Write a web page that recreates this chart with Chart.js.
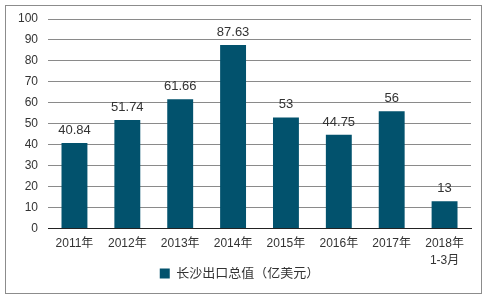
<!DOCTYPE html>
<html>
<head>
<meta charset="utf-8">
<script src="https://cdn.jsdelivr.net/npm/chart.js"></script>
<style>
  html, body { margin: 0; padding: 0; background: #fff; }
  #wrap { width: 489px; height: 299px; }
</style>
</head>
<body>
<div id="wrap"><canvas id="exportChart" width="489" height="299"></canvas></div>
<script>
const categories = ["2011年", "2012年", "2013年", "2014年", "2015年", "2016年", "2017年", ["2018年", "1-3月"]];
const exportValues = [40.84, 51.74, 61.66, 87.63, 53, 44.75, 56, 13];
const valueLabels = ["40.84", "51.74", "61.66", "87.63", "53", "44.75", "56", "13"];
const seriesName = "长沙出口总值（亿美元）";

const fontFamily = "'Liberation Sans', Arial, 'Noto Sans CJK SC', sans-serif";

const frame = {
  id: "frame",
  beforeDraw(chart) {
    const c = chart.ctx;
    c.save();
    c.fillStyle = "#fff";
    c.fillRect(0, 0, chart.width, chart.height);
    c.strokeStyle = "#8c8c8c";
    c.lineWidth = 1;
    c.strokeRect(5.5, 5.5, 476, 288);
    c.restore();
  }
};

// pull the legend up a little so it sits close under the year labels
const legendShift = {
  id: "legendShift",
  afterLayout(chart) {
    if (chart.legend) {
      chart.legend.top -= 9;
      chart.legend.bottom -= 9;
    }
  }
};

const barValues = {
  id: "barValues",
  afterDatasetsDraw(chart) {
    const c = chart.ctx;
    const meta = chart.getDatasetMeta(0);
    c.save();
    c.font = "13px " + fontFamily;
    c.fillStyle = "#333";
    c.textAlign = "center";
    c.textBaseline = "bottom";
    meta.data.forEach((bar, i) => {
      c.fillText(valueLabels[i], bar.x, bar.y - 6);
    });
    c.restore();
  }
};

new Chart(document.getElementById("exportChart"), {
  type: "bar",
  data: {
    labels: categories,
    datasets: [{
      label: seriesName,
      data: exportValues,
      backgroundColor: "#02526d",
      barPercentage: 0.49,
      categoryPercentage: 1
    }]
  },
  options: {
    responsive: false,
    animation: false,
    layout: { padding: { left: 8, right: 18, top: 19, bottom: 0 } },
    plugins: {
      legend: {
        position: "bottom",
        labels: {
          boxWidth: 10,
          boxHeight: 10,
          color: "#333",
          font: { size: 13, family: fontFamily },
          padding: 0
        }
      },
      tooltip: { enabled: false }
    },
    scales: {
      x: {
        grid: { display: false, drawTicks: false },
        border: { color: "#222", width: 1 },
        ticks: { color: "#333", font: { size: 12, family: fontFamily, lineHeight: 1.4 }, maxRotation: 0, padding: 7 }
      },
      y: {
        min: 0,
        max: 100,
        ticks: { stepSize: 10, color: "#333", font: { size: 12, family: fontFamily }, padding: 10 },
        grid: { color: "#8a8a8a", drawTicks: false },
        border: { display: false }
      }
    }
  },
  plugins: [frame, legendShift, barValues]
});
</script>
</body>
</html>
